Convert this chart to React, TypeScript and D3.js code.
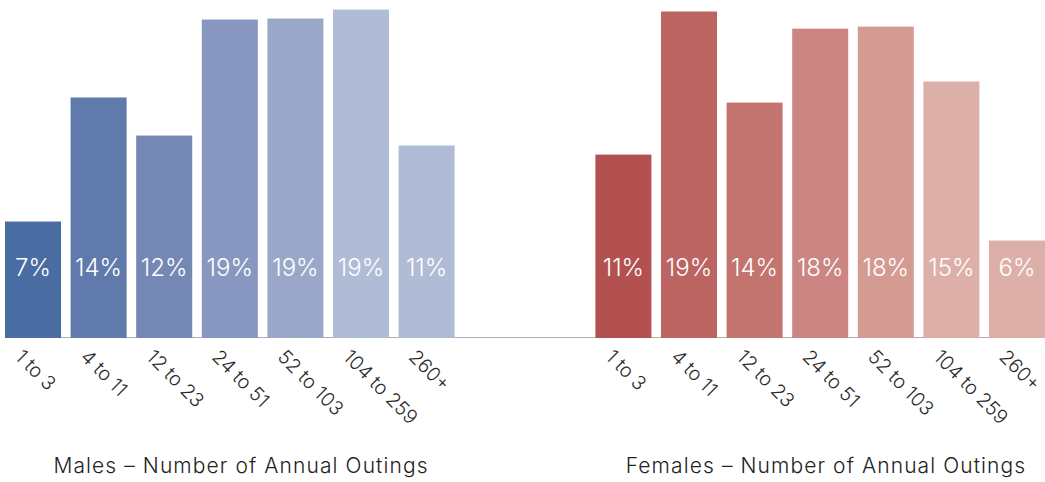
import React, { useEffect } from "react";
import * as d3 from "d3";

const categories = ["1 to 3", "4 to 11", "12 to 23", "24 to 51", "52 to 103", "104 to 259", "260+"];
const maleValues = [6.76, 13.99, 11.77, 18.53, 18.59, 19.11, 11.19];
const femaleValues = [10.66, 19.0, 13.69, 18.0, 18.12, 14.92, 5.65];
const maleColors = ["#496ca3", "#5f7aab", "#7587b5", "#8897bf", "#9aa7c9", "#b0bbd6", "#b0bbd6"];
const femaleColors = ["#b35151", "#bb6461", "#c3746e", "#cb8582", "#d49b93", "#dcb0a8", "#dcb0a8"];
const groupTitles = ["Males – Number of Annual Outings", "Females – Number of Annual Outings"];

const W = 1045;
const H = 482;
const FONT = "Inter, Lato, 'Open Sans', sans-serif";

type Bar = { key: string; cat: string; value: number; color: string };

const bars: Bar[] = [
  ...categories.map((c, i) => ({ key: "m" + i, cat: c, value: maleValues[i], color: maleColors[i] })),
  ...categories.map((c, i) => ({ key: "f" + i, cat: c, value: femaleValues[i], color: femaleColors[i] })),
];
const slots = [
  ...categories.map((_, i) => "m" + i),
  "gap1",
  "gap2",
  ...categories.map((_, i) => "f" + i),
];

export default function App() {
  useEffect(() => {
    document.body.style.margin = "0";
  }, []);

  const x = d3.scaleBand<string>().domain(slots).range([5, 1045]).paddingInner(0.146).paddingOuter(0);
  const baseY = 337.5;
  const y = d3.scaleLinear().domain([0, 19.67]).range([baseY, 0]);
  const bw = x.bandwidth();

  const maleCenter = 241;
  const femaleCenter = 826;

  return (
    <svg width={W} height={H} style={{ position: "absolute", left: 0, top: 0, display: "block" }}>
      <line x1={5} x2={1045} y1={baseY} y2={baseY} stroke="#b0b0b0" strokeWidth={1.2} />
      {bars.map((b) => (
        <g key={b.key}>
          <rect x={x(b.key)} y={y(b.value)} width={bw} height={baseY + 0.5 - y(b.value)} fill={b.color} />
          <text
            x={x(b.key)! + bw / 2}
            y={276}
            textAnchor="middle"
            fill="#ffffff"
            fontFamily={FONT}
            fontWeight={300}
            fontSize={24}
          >
            {Math.round(b.value) + "%"}
          </text>
          <text
            transform={`translate(${x(b.key)! + bw / 2 - 19},${358}) rotate(45)`}
            fill="#2a2a2a"
            fontFamily={FONT}
            fontWeight={300}
            fontSize={19.5}
          >
            {b.cat}
          </text>
        </g>
      ))}
      <text x={maleCenter} y={473} textAnchor="middle" fill="#222" fontFamily={FONT} fontWeight={300} fontSize={21} letterSpacing={1.1}>
        {groupTitles[0]}
      </text>
      <text x={femaleCenter} y={473} textAnchor="middle" fill="#222" fontFamily={FONT} fontWeight={300} fontSize={21} letterSpacing={1.1}>
        {groupTitles[1]}
      </text>
    </svg>
  );
}
